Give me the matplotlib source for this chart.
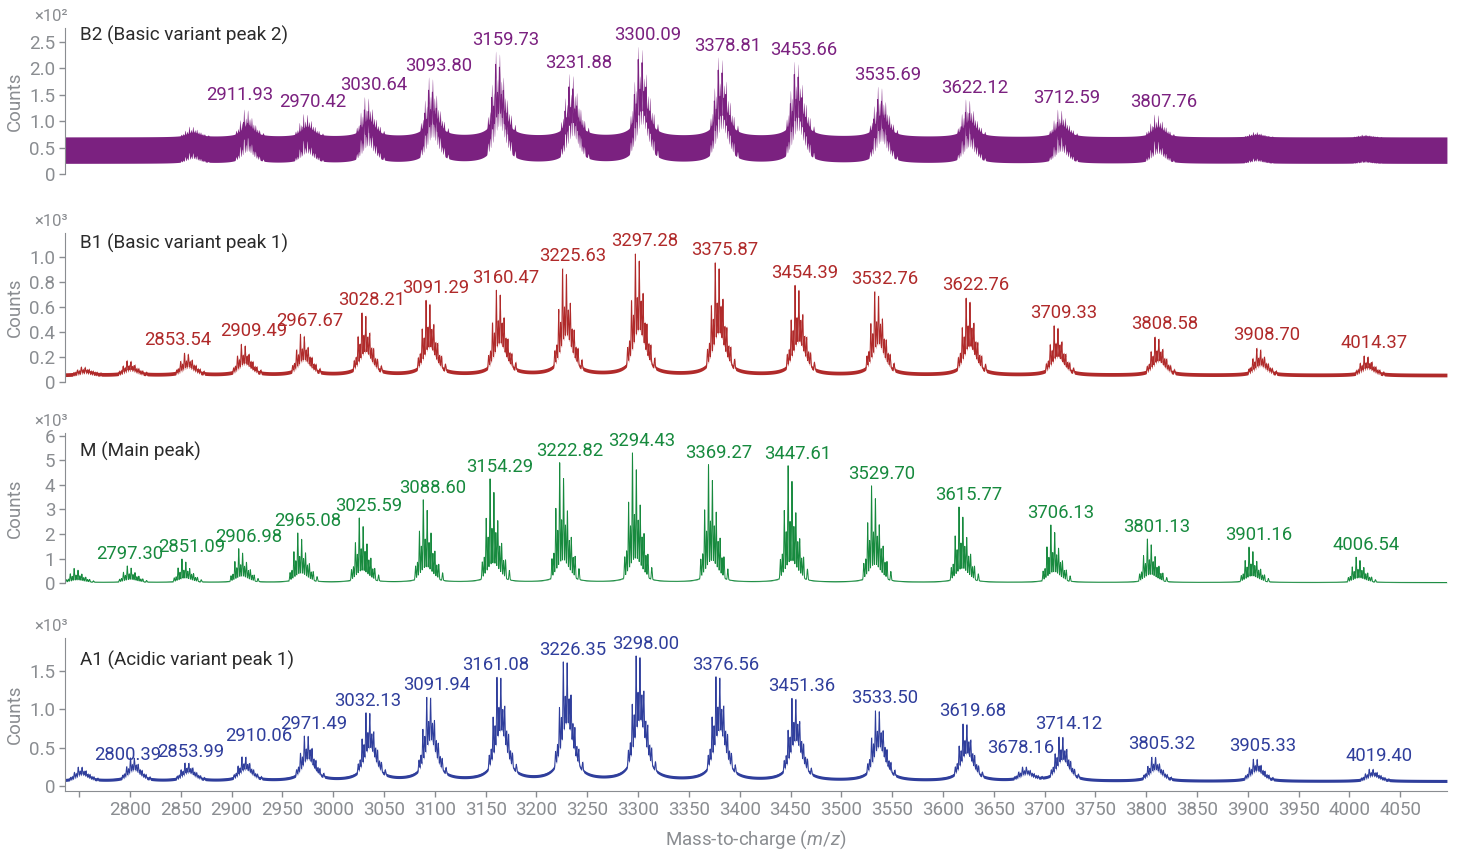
import numpy as np
import matplotlib.pyplot as plt

plt.rcParams['font.family'] = ['Roboto', 'DejaVu Sans']
plt.rcParams['mathtext.fontset'] = 'custom'
plt.rcParams['mathtext.rm'] = 'Roboto'
plt.rcParams['mathtext.it'] = 'Roboto:italic'

# ---- data ----
# labelled clusters: m/z of tallest line and top of the cluster (counts)
b2_mz = [2911.93, 2970.42, 3030.64, 3093.80, 3159.73, 3231.88, 3300.09,
         3378.81, 3453.66, 3535.69, 3622.12, 3712.59, 3807.76]
b2_top = [122, 113, 145, 182, 231, 188, 240, 220, 212, 165, 141, 122, 113]
b2_minor_mz = [2858, 3905, 4012]
b2_minor_top = [90, 80, 75]

b1_mz = [2853.54, 2909.49, 2967.67, 3028.21, 3091.29, 3160.47, 3225.63, 3297.28,
         3375.87, 3454.39, 3532.76, 3622.76, 3709.33, 3808.58, 3908.70, 4014.37]
b1_top = [240, 310, 390, 560, 660, 740, 910, 1030, 960, 780, 730, 680, 460, 370, 280, 220]
b1_minor_mz = [2752, 2797]
b1_minor_top = [130, 180]

m_mz = [2797.30, 2851.09, 2906.98, 2965.08, 3025.59, 3088.60, 3154.29, 3222.82, 3294.43,
        3369.27, 3447.61, 3529.70, 3615.77, 3706.13, 3801.13, 3901.16, 4006.54]
m_top = [700, 980, 1400, 2040, 2650, 3390, 4240, 4900, 5300,
         4820, 4780, 3960, 3100, 2370, 1800, 1470, 1060]
m_minor_mz = [2745]
m_minor_top = [600]

a1_mz = [2800.39, 2853.99, 2910.06, 2971.49, 3032.13, 3091.94, 3161.08, 3226.35, 3298.00,
         3376.56, 3451.36, 3533.50, 3619.68, 3678.16, 3714.12, 3805.32, 3905.33, 4019.40]
a1_top = [380, 310, 390, 660, 960, 1160, 1420, 1620, 1700,
          1430, 1150, 990, 820, 250, 650, 390, 365, 235]
a1_minor_mz = [2749]
a1_minor_top = [260]

# baseline level and noise half-width (counts)
baselines = [45, 55, 20, 65]
noise = [25, 15, 8, 20]
# share of each cluster in the broad hump under the lines
hump_share = [0.35, 0.3, 0.12, 0.4]

# fine structure of one cluster (offset in m/z, relative height)
line_off = [-7.6, -5.7, -3.8, -1.9, 0.0, 1.9, 3.8, 5.7, 7.6, 9.5, 11.4, 13.3, 15.2, 19.0]
line_rel = [0.18, 0.22, 0.62, 0.4, 1.0, 0.45, 0.82, 0.4, 0.55, 0.3, 0.35, 0.18, 0.2, 0.1]

names = ['B2 (Basic variant peak 2)', 'B1 (Basic variant peak 1)',
         'M (Main peak)', 'A1 (Acidic variant peak 1)']
colors = ['#7b2180', '#b02a2a', '#178a3e', '#2f3e9c']
scales = ['\u00d710\u00b2', '\u00d710\u00b3', '\u00d710\u00b3', '\u00d710\u00b3']
yticks = [[0, 50, 100, 150, 200, 250], [0, 200, 400, 600, 800, 1000],
          [0, 1000, 2000, 3000, 4000, 5000, 6000], [0, 500, 1000, 1500]]
yticklabels = [['0', '0.5', '1.0', '1.5', '2.0', '2.5'],
               ['0', '0.2', '0.4', '0.6', '0.8', '1.0'],
               ['0', '1', '2', '3', '4', '5', '6'],
               ['0', '0.5', '1.0', '1.5']]
ylims = [(0, 276), (0, 1190), (0, 6120), (-65, 1930)]
xticks = list(range(2750, 4100, 50))

panels = [(b2_mz, b2_top, b2_minor_mz, b2_minor_top),
          (b1_mz, b1_top, b1_minor_mz, b1_minor_top),
          (m_mz, m_top, m_minor_mz, m_minor_top),
          (a1_mz, a1_top, a1_minor_mz, a1_minor_top)]

# label nudges (points) where the original moved a label off its peak
nudge = {(0, 2911.93): (-10, 2),
         (1, 2853.54): (-12, 0), (1, 2909.49): (2, 0),
         (2, 2797.30): (-5, 0),
         (3, 2800.39): (-9, -7), (3, 2853.99): (-3, -1), (3, 2910.06): (5, 6),
         (3, 3032.13): (-6, 0), (3, 3161.08): (-8, 0), (3, 3678.16): (-8, 5)}

x = np.arange(2736, 4096, 0.08)


def cluster(c, h, hump):
    lines = np.zeros_like(x)
    for o, r in zip(line_off, line_rel):
        lines += r * np.exp(-0.5 * ((x - c - o) / 0.4) ** 2)
    broad = 1.0 / (1.0 + ((x - c - 4.0) / 7.0) ** 2)
    shape = hump * broad + (1 - hump) * lines
    return h * shape / shape.max()


def spectrum(i):
    mz, top, mmz, mtop = panels[i]
    y = np.full_like(x, float(baselines[i]))
    for c, t in zip(list(mz) + list(mmz), list(top) + list(mtop)):
        y += cluster(c, t - baselines[i] - noise[i], hump_share[i])
    return y


fig = plt.figure(figsize=(14.6, 8.5), dpi=100)
grey = '#8a8d91'
boxes = [(0.0445, 0.7953, 0.9466, 0.1718),
         (0.0445, 0.5506, 0.9466, 0.1753),
         (0.0445, 0.3141, 0.9466, 0.1765),
         (0.0445, 0.0694, 0.9466, 0.1800)]
title_y = [0.95, 0.93, 0.88, 0.856]

for i in range(4):
    ax = fig.add_axes(boxes[i])
    y = spectrum(i)
    ax.fill_between(x, y - noise[i], y + noise[i], color=colors[i], lw=0)
    ax.plot(x, y, color=colors[i], lw=0.7)

    mz, top = panels[i][0], panels[i][1]
    for c, t in zip(mz, top):
        dx, dy = nudge.get((i, c), (0, 0))
        ax.annotate('%.2f' % c, (c, t), xytext=(7 + dx, 2 + dy), textcoords='offset points',
                    ha='center', va='bottom', color=colors[i], fontsize=13.3)

    ax.set_xlim(2736, 4096)
    ax.set_ylim(*ylims[i])
    ax.set_yticks(yticks[i])
    ax.set_yticklabels(yticklabels[i])
    for s in ['top', 'right']:
        ax.spines[s].set_visible(False)
    ax.spines['left'].set_color(grey)
    ax.spines['bottom'].set_color(grey)
    ax.tick_params(axis='both', colors=grey, labelsize=13.5, length=4, width=1, pad=3)
    ax.set_ylabel('Counts', color=grey, fontsize=13.5)
    ax.yaxis.set_label_coords(-0.03, 0.5)
    ax.text(0.011, title_y[i], names[i], transform=ax.transAxes, ha='left', va='center',
            color='#2b2b2b', fontsize=13.6)
    ax.annotate(scales[i], (0, 1), xycoords='axes fraction', xytext=(2, 3),
                textcoords='offset points', ha='right', va='bottom', color=grey, fontsize=12)
    ax.set_xticks(xticks)
    if i < 3:
        ax.spines['bottom'].set_visible(False)
        ax.tick_params(axis='x', bottom=False, labelbottom=False)
    else:
        ax.set_xticklabels([''] + [str(t) for t in xticks[1:]])
        ax.set_xlabel('Mass-to-charge ($m/z$)', color=grey, fontsize=13.5, labelpad=7)

fig.savefig('out.png', dpi=100)
